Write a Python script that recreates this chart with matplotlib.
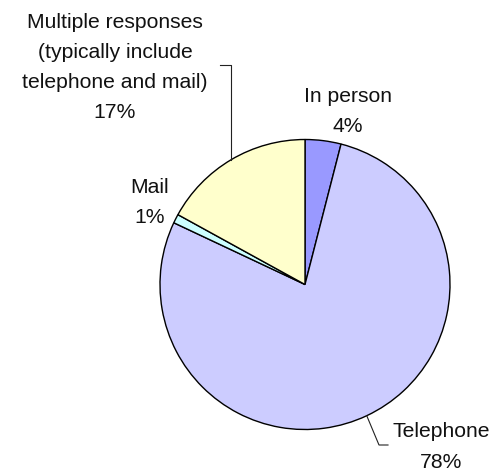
import numpy as np
import matplotlib.pyplot as plt

plt.rcParams['font.family'] = ['Liberation Sans', 'DejaVu Sans']

labels = ['In person', 'Telephone', 'Mail',
          'Multiple responses\n(typically include\ntelephone and mail)']
shares = [4, 78, 1, 17]
colors = ['#9999ff', '#ccccff', '#ccffff', '#ffffcc']

W, H = 500, 472
cx, cy, r = 305, H - 284.5, 145

fig = plt.figure(figsize=(5, 4.72), dpi=100)
ax = fig.add_axes([0, 0, 1, 1])

wedges, _ = ax.pie(shares, startangle=90, counterclock=False, colors=colors,
                   center=(cx, cy), radius=r,
                   wedgeprops=dict(edgecolor='black', linewidth=1.0))
ax.set_xlim(0, W)
ax.set_ylim(0, H)
ax.set_aspect('equal')
ax.axis('off')

# label anchor (centre x, first baseline from top, line step) in pixels
spots = [(348, 102, 29.5), (441, 437, 31), (150, 193, 30), (115, 28, 30)]
for lab, val, (x, y0, step) in zip(labels, shares, spots):
    lines = lab.split('\n') + [f'{val}%']
    for i, ln in enumerate(lines):
        ax.text(x, H - (y0 + i * step), ln, ha='center', va='baseline',
                fontsize=15.2, color='#111111')

def edge_point(w):
    mid = np.deg2rad((w.theta1 + w.theta2) / 2)
    return cx + r * np.cos(mid), cy + r * np.sin(mid)

# leader lines
ex, ey = edge_point(wedges[3])
ax.plot([220, ex, ex], [H - 65, H - 65, ey], color='#222222', lw=0.8)
ex, ey = edge_point(wedges[1])
ax.plot([ex, 379, 388], [ey, H - 445, H - 445], color='#222222', lw=0.8)

fig.savefig('out.png', dpi=100)
